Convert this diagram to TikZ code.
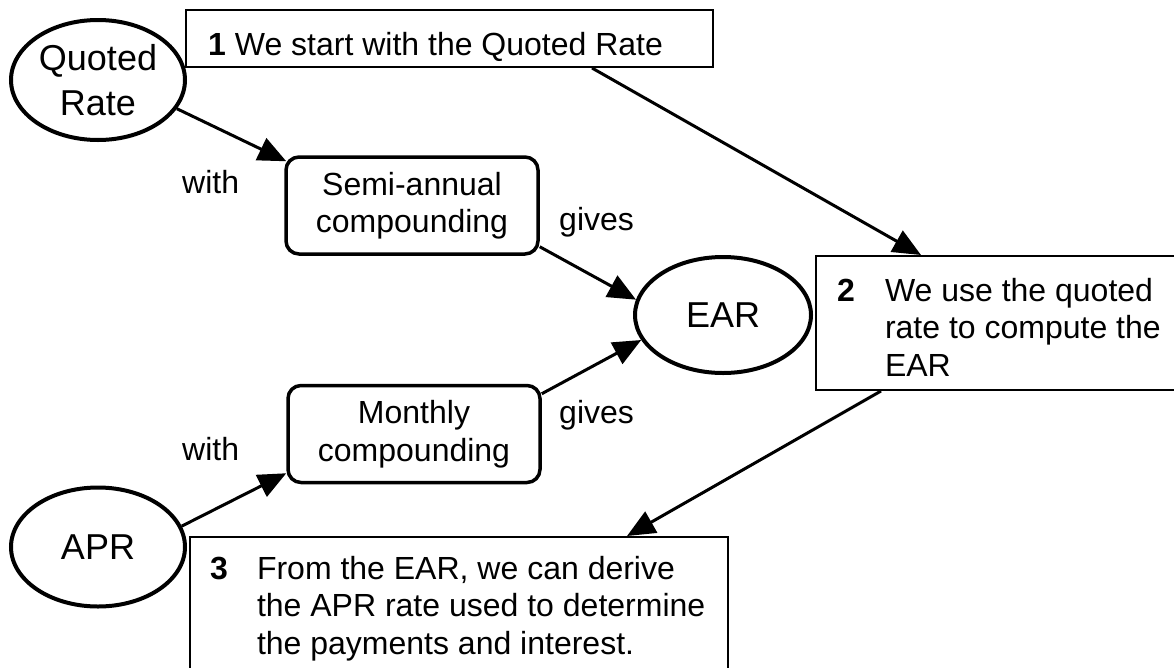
\documentclass[tikz,border=0pt]{standalone}
\usepackage{fontspec}
\setmainfont{Liberation Sans}
\usetikzlibrary{arrows.meta,shapes.geometric,calc}
\begin{document}
\begin{tikzpicture}[x=1pt,y=-1pt,
  every node/.style={inner sep=0pt},
  big/.style={font=\fontsize{36}{45}\selectfont},
  txt/.style={font=\fontsize{32}{37.5}\selectfont},
  oval/.style={ellipse, draw, line width=4pt, fill=white, big, align=center},
  rbox/.style={rectangle, rounded corners=13pt, draw, line width=3.5pt, fill=white, txt, align=center, minimum width=252pt, minimum height=97pt},
  note/.style={rectangle, draw, line width=2pt, fill=white, anchor=north west},
  arr/.style={line width=3pt, -{Triangle[length=28pt,width=24pt]}},
  lbl/.style={txt, anchor=base west},
]
\clip (0,0) rectangle (1174,667);
\fill[white] (0,0) rectangle (1174,667);

% plain note boxes
\node[note, minimum width=527pt, minimum height=57pt] (b1) at (185,9) {};
\node[note, minimum width=370pt, minimum height=134pt] (b2) at (815,255) {};
\node[note, minimum width=538pt, minimum height=170pt] (b3) at (189,536) {};

% ellipses
\node[oval, minimum width=174pt, minimum height=120pt] (qr) at (98,80) {Quoted\\Rate};
\node[oval, minimum width=176pt, minimum height=116pt] (ear) at (723,315) {EAR};
\node[oval, minimum width=174pt, minimum height=119pt] (apr) at (98,547) {APR};

% rounded boxes
\node[rbox] (semi) at (412,205.5) {Semi-annual\\compounding};
\node[rbox] (mon) at (414,434) {Monthly\\compounding};

% labels
\node[lbl] (w1) at (182,193) {with};
\node[lbl] (w2) at (182,460) {with};
\node[lbl] (g1) at (559,230) {gives};
\node[lbl] (g2) at (559,423) {gives};

% note texts
\node[lbl] (t1) at (208,55) {\textbf{1} We start with the Quoted Rate};
\node[lbl] (t2) at (837,301) {\begin{tabular}[t]{@{}l@{\hspace{30pt}}l@{}}\textbf{2}&We use the quoted\\&rate to compute the\\&EAR\end{tabular}};
\node[lbl] (t3) at (210,579) {\begin{tabular}[t]{@{}l@{\hspace{29pt}}l@{}}\textbf{3}&From the EAR, we can derive\\&the APR rate used to determine\\&the payments and interest.\end{tabular}};

% arrows
\draw[arr] (qr.-20) -- ([xshift=2pt,yshift=-6pt]semi.north west);
\draw[arr] ([yshift=9pt]semi.south east) -- (ear.170);
\draw[arr] ([yshift=-10pt]mon.north east) -- (ear.197);
\draw[arr] (apr.14) -- ([yshift=11pt]mon.south west);
\draw[arr] ([xshift=407pt]b1.south west) -- ([xshift=106pt]b2.north west);
\draw[arr] ([xshift=66pt]b2.south west) -- ([xshift=438pt]b3.north west);
\end{tikzpicture}
\end{document}
